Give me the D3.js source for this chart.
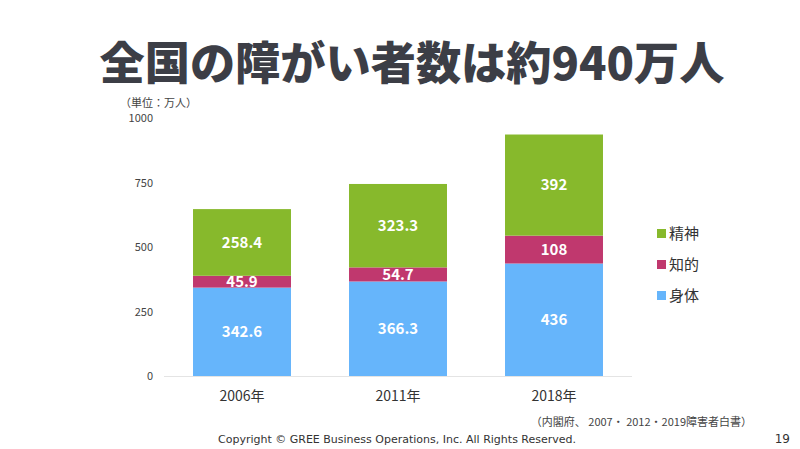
<!DOCTYPE html>
<html><head><meta charset="utf-8">
<script src="https://cdn.jsdelivr.net/npm/d3@7"></script>
<style>body{margin:0;background:#fff;}svg{display:block;}</style>
</head><body><svg id="c" width="800" height="449"></svg>
<script>
const categories = ["2006年", "2011年", "2018年"];
const seriesNames = ["身体", "知的", "精神"];
const physical = [342.6, 366.3, 436];
const intellectual = [45.9, 54.7, 108];
const mental = [258.4, 323.3, 392];
const valueLabels = {
  "身体": ["342.6", "366.3", "436"],
  "知的": ["45.9", "54.7", "108"],
  "精神": ["258.4", "323.3", "392"]
};
const yTicks = [0, 250, 500, 750, 1000];
const colors = {"身体": "#66b5fb", "知的": "#c0386e", "精神": "#87b92c"};

const svg = d3.select("#c");
const font = "'Noto Sans CJK JP', 'Noto Sans', sans-serif";

// Title
svg.append("text").attr("x", 412).attr("y", 80).attr("text-anchor", "middle")
  .attr("font-family", font).attr("font-weight", 900).attr("font-size", 45)
  .attr("textLength", 625).attr("lengthAdjust", "spacingAndGlyphs")
  .attr("fill", "#3c3e46").text("全国の障がい者数は約940万人");

const x = d3.scaleBand().domain(categories).range([164, 632]).paddingInner(0.372).paddingOuter(0.186);
const y = d3.scaleLinear().domain([0, 1000]).range([376, 118]);

const table = categories.map((c, i) => ({cat: c, "身体": physical[i], "知的": intellectual[i], "精神": mental[i], i}));
const stack = d3.stack().keys(seriesNames)(table);

// baseline
svg.append("line").attr("x1", 164).attr("x2", 632).attr("y1", y(0)+0.5).attr("y2", y(0)+0.5)
  .attr("stroke", "#e4e4e4").attr("stroke-width", 1);

// y axis labels
const yAxis = d3.axisLeft(y).tickValues(yTicks).tickFormat(d3.format("d")).tickSize(0).tickPadding(0);
const ga = svg.append("g").attr("transform", "translate(153,0)").call(yAxis);
ga.select(".domain").remove();
ga.selectAll("text").attr("font-family", font).attr("font-size", 11).attr("fill", "#444");

// x axis labels
const xAxis = d3.axisBottom(x).tickSize(0).tickPadding(0);
const gx = svg.append("g").attr("transform", "translate(0,391)").call(xAxis);
gx.select(".domain").remove();
gx.selectAll("text").attr("font-family", font).attr("font-size", 14).attr("fill", "#333");

// bars
stack.forEach(layer => {
  const key = layer.key;
  svg.append("g").selectAll("rect").data(layer).join("rect")
    .attr("x", d => x(d.data.cat)).attr("width", x.bandwidth())
    .attr("y", d => y(d[1])).attr("height", d => y(d[0]) - y(d[1]))
    .attr("fill", colors[key]);
  svg.append("g").selectAll("text").data(layer).join("text")
    .attr("x", d => x(d.data.cat) + x.bandwidth()/2)
    .attr("y", d => (y(d[0]) + y(d[1]))/2)
    .attr("dy", "0.36em").attr("text-anchor", "middle")
    .attr("font-family", font).attr("font-weight", 700).attr("font-size", 15)
    .attr("fill", "#fff").text(d => valueLabels[key][d.data.i]);
});

// unit
svg.append("text").attr("x", 120).attr("y", 107).attr("font-family", font).attr("font-size", 11)
  .attr("fill", "#444").text("（単位：万人）");

// legend
const legendOrder = ["精神", "知的", "身体"];
const lg = svg.append("g").selectAll("g").data(legendOrder).join("g")
  .attr("transform", (d, i) => `translate(657,${229 + i*31})`);
lg.append("rect").attr("width", 9).attr("height", 9).attr("fill", d => colors[d]);
lg.append("text").attr("x", 12).attr("y", 4.5).attr("dy", "0.36em")
  .attr("font-family", font).attr("font-size", 15).attr("fill", "#333").text(d => d);

// source
svg.append("text").attr("x", 752).attr("y", 426).attr("text-anchor", "end")
  .attr("font-family", font).attr("font-size", 11).attr("fill", "#444")
  .text("（内閣府、 2007・ 2012・2019障害者白書）");

// footer
svg.append("text").attr("x", 218).attr("y", 443)
  .attr("font-family", "'DejaVu Sans', sans-serif").attr("font-size", 11).attr("fill", "#333")
  .text("Copyright © GREE Business Operations, Inc. All Rights Reserved.");
svg.append("text").attr("x", 790).attr("y", 443).attr("text-anchor", "end")
  .attr("font-family", "'DejaVu Sans', sans-serif").attr("font-size", 12).attr("fill", "#333").text("19");
</script></body></html>
